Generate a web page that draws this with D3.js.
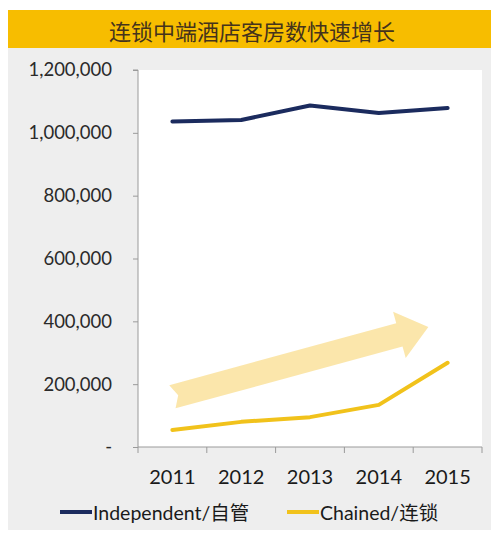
<!DOCTYPE html>
<html>
<head>
<meta charset="utf-8">
<script src="https://cdn.jsdelivr.net/npm/d3@7"></script>
<style>
  html, body { margin: 0; padding: 0; background: #ffffff; }
  svg { display: block; }
</style>
</head>
<body>
<svg id="chart" width="491" height="534"></svg>
<script>
// Hotel room counts by ownership type
const title = "连锁中端酒店客房数快速增长";
const years = ["2011", "2012", "2013", "2014", "2015"];
const independent = [1036000, 1041000, 1087000, 1063000, 1079000];
const chained = [54000, 80000, 95000, 134000, 268000];
const yTicks = [0, 200000, 400000, 600000, 800000, 1000000, 1200000];
const seriesNames = ["Independent/自管", "Chained/连锁"];
const seriesColors = ["#1b2b5e", "#f1c21b"];
// Growth arrow endpoints: [year index, value]
const arrowFrom = [0, 160000];
const arrowTo = [3.72, 382000];

const svg = d3.select("#chart");
const W = 491, H = 534;
const fontFamily = "Lato, 'Noto Sans CJK SC', sans-serif";

// Panel background
svg.append("rect").attr("x", 8).attr("y", 48).attr("width", W - 8).attr("height", 482)
  .attr("fill", "#eeeeee");

// Title bar
svg.append("rect").attr("x", 8).attr("y", 10).attr("width", W - 8).attr("height", 38)
  .attr("fill", "#f7bd00");
svg.append("text").attr("x", 252).attr("y", 30).attr("text-anchor", "middle")
  .attr("dominant-baseline", "central")
  .attr("font-family", "'Noto Sans CJK SC', sans-serif").attr("font-size", 22)
  .attr("fill", "#45331c").text(title);

const m = { left: 138, right: 482, top: 70, bottom: 447 };

const x = d3.scaleBand().domain(years).range([m.left, m.right]).paddingInner(0).paddingOuter(0);
const xi = d3.scaleLinear().domain([0, years.length - 1])
  .range([x(years[0]) + x.bandwidth() / 2, x(years[years.length - 1]) + x.bandwidth() / 2]);
const y = d3.scaleLinear().domain([0, 1200000]).range([m.bottom, m.top]);

// Plot area
svg.append("rect").attr("x", m.left).attr("y", m.top)
  .attr("width", m.right - m.left).attr("height", m.bottom - m.top).attr("fill", "#ffffff");

// Y axis
const yAxis = d3.axisLeft(y).tickValues(yTicks).tickSize(5).tickPadding(21)
  .tickFormat(d => d === 0 ? "-" : d3.format(",")(d));
const gy = svg.append("g").attr("transform", `translate(${m.left},0)`).call(yAxis);
gy.select(".domain").attr("stroke", "#9a9a9a").attr("d", `M-5,${m.top}H0V${m.bottom}`);
gy.selectAll(".tick line").attr("stroke", "#9a9a9a");
gy.selectAll(".tick text").attr("font-family", fontFamily).attr("font-size", 18.5)
  .attr("fill", "#2a2a2a");

// X axis with ticks at category boundaries
const gx = svg.append("g").attr("transform", `translate(0,${m.bottom})`);
gx.append("line").attr("x1", m.left).attr("x2", m.right).attr("y1", 0).attr("y2", 0)
  .attr("stroke", "#9a9a9a");
const bounds = years.map(d => x(d)).concat([x(years[years.length - 1]) + x.bandwidth()]);
gx.selectAll("line.tk").data(bounds).join("line").attr("class", "tk")
  .attr("x1", d => d).attr("x2", d => d).attr("y1", 0).attr("y2", 6).attr("stroke", "#9a9a9a");
gx.selectAll("text").data(years).join("text")
  .attr("x", d => x(d) + x.bandwidth() / 2).attr("y", 29)
  .attr("text-anchor", "middle").attr("dominant-baseline", "central")
  .attr("font-family", fontFamily).attr("font-size", 20).attr("fill", "#1a1a1a")
  .text(d => d);

// Growth arrow
const p0 = [xi(arrowFrom[0]), y(arrowFrom[1])];
const p1 = [xi(arrowTo[0]), y(arrowTo[1])];
const ang = Math.atan2(p1[1] - p0[1], p1[0] - p0[0]);
const len = Math.hypot(p1[0] - p0[0], p1[1] - p0[1]);
const shaftHalf = 12, headHalf = 24, headLen = 30;
const arrowPts = [
  [0, -shaftHalf], [len - headLen, -shaftHalf], [len - headLen, -headHalf], [len, 0],
  [len - headLen, headHalf], [len - headLen, shaftHalf], [0, shaftHalf], [6, 0]
];
svg.append("path")
  .attr("d", d3.line()(arrowPts) + "Z")
  .attr("transform", `translate(${p0[0]},${p0[1]}) rotate(${ang * 180 / Math.PI})`)
  .attr("fill", "#fbe3a2").attr("opacity", 0.9);

// Lines
const line = d3.line().x((d, i) => x(years[i]) + x.bandwidth() / 2).y(d => y(d));
[independent, chained].forEach((vals, k) => {
  svg.append("path").datum(vals).attr("d", line).attr("fill", "none")
    .attr("stroke", seriesColors[k]).attr("stroke-width", 4)
    .attr("stroke-linejoin", "round").attr("stroke-linecap", "round");
});

// Legend
const legendX = [60, 287];
seriesNames.forEach((name, k) => {
  const g = svg.append("g").attr("transform", `translate(${legendX[k]},512)`);
  g.append("line").attr("x1", 0).attr("x2", 32).attr("y1", 0).attr("y2", 0)
    .attr("stroke", seriesColors[k]).attr("stroke-width", 4);
  g.append("text").attr("x", 33).attr("y", 0).attr("dominant-baseline", "central")
    .attr("font-family", fontFamily).attr("font-size", 19.5).attr("fill", "#1a1a1a")
    .text(name);
});
</script>
</body>
</html>
